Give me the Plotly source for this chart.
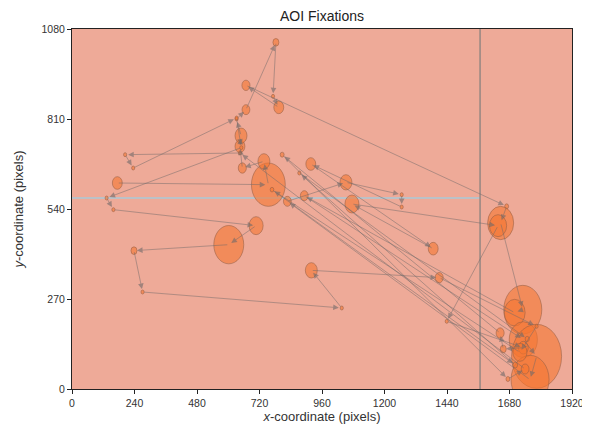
import plotly.graph_objects as go

# ---- data: fixation scanpath (screen pixels, duration ms) ----
fix_x = [174, 754, 737, 654, 645, 649, 632, 668, 783, 772, 794, 668, 1669, 1646, 1731, 1700, 892,
         1733, 1784, 1759, 827, 1052, 1266, 1266, 917, 1387, 1075, 1636, 1439, 1733, 1656, 1644,
         807, 1674, 1740, 645, 204, 235, 632, 650, 133, 159, 707, 602, 238, 271, 1036, 919, 1410,
         1784, 1720, 768, 1702, 873, 1748]
fix_y = [618, 613, 683, 663, 728, 760, 810, 838, 1040, 878, 845, 911, 548, 498, 238, 229, 580,
         148, 98, 28, 563, 620, 583, 546, 675, 421, 555, 490, 203, 124, 120, 168,
         703, 30, 60, 708, 703, 663, 813, 724, 573, 538, 490, 433, 415, 291, 243, 356, 334,
         188, 110, 598, 72, 648, 150]
fix_dur = [190, 650, 230, 155, 190, 230, 60, 150, 115, 60, 190, 155, 75, 500, 730, 400, 150,
           540, 960, 730, 150, 230, 60, 60, 190, 190, 270, 330, 60, 190, 115, 155,
           75, 75, 150, 60, 60, 60, 60, 60, 60, 60, 270, 575, 115, 60, 60, 230, 155,
           60, 270, 70, 90, 60, 80]

x_ticks = [0, 240, 480, 720, 960, 1200, 1440, 1680, 1920]
y_ticks = [0, 270, 540, 810, 1080]

aoi_split_x = 1567
aoi_split_y = 573
screen_w, screen_h = 1920, 1080

BG = "rgb(238,170,152)"
FIX_FILL = "rgba(245,118,48,0.6)"
FIX_EDGE = "rgba(150,95,70,0.55)"
ARROW = "rgba(110,105,105,0.6)"

fig = go.Figure()
fig.add_trace(go.Scatter(x=[0, screen_w], y=[0, screen_h], mode="markers",
                         marker=dict(opacity=0), hoverinfo="skip", showlegend=False))

shapes = []
shapes.append(dict(type="rect", xref="x", yref="y", x0=0, x1=screen_w, y0=0, y1=screen_h,
                   fillcolor=BG, line=dict(width=0), layer="below"))
shapes.append(dict(type="line", xref="x", yref="y", x0=0, x1=aoi_split_x,
                   y0=aoi_split_y, y1=aoi_split_y, line=dict(color="rgb(170,200,215)", width=1.5),
                   layer="below"))
shapes.append(dict(type="line", xref="x", yref="y", x0=aoi_split_x, x1=aoi_split_x,
                   y0=0, y1=screen_h, line=dict(color="rgb(150,135,130)", width=1.5), layer="below"))

for x, y, d in zip(fix_x, fix_y, fix_dur):
    r = d / 10.0
    shapes.append(dict(type="circle", xref="x", yref="y", x0=x - r, x1=x + r, y0=y - r, y1=y + r,
                       fillcolor=FIX_FILL, line=dict(color=FIX_EDGE, width=1), layer="below"))

annotations = []
for i in range(len(fix_x) - 1):
    annotations.append(dict(x=fix_x[i + 1], y=fix_y[i + 1], ax=fix_x[i], ay=fix_y[i],
                            xref="x", yref="y", axref="x", ayref="y", text="",
                            showarrow=True, arrowhead=2, arrowsize=1.4, arrowwidth=0.8,
                            arrowcolor=ARROW, standoff=3))

# the page body adds an 8px offset, so size the figure to land on the reference pixels
fig.update_layout(
    width=582, height=422,
    margin=dict(l=64, r=18, t=21, b=41, autoexpand=False),
    paper_bgcolor="white", plot_bgcolor=BG,
    shapes=shapes, annotations=annotations,
    font=dict(family="Liberation Sans, Arial, sans-serif", size=10.5, color="#333"),
    title=dict(text="AOI Fixations", x=0.5, xanchor="center", y=0.982, yanchor="middle",
               xref="paper", font=dict(size=14, color="#222")),
    showlegend=False,
)
fig.update_xaxes(range=[0, screen_w], tickvals=x_ticks, ticks="outside", ticklen=4,
                 tickcolor="#222", showgrid=False, zeroline=False, showline=True,
                 linecolor="#222", linewidth=1, mirror=True, automargin=False,
                 title=dict(text="<i>x</i>-coordinate (pixels)", standoff=0,
                            font=dict(size=13, color="#333")))
fig.update_yaxes(range=[0, screen_h], tickvals=y_ticks, ticks="outside", ticklen=4,
                 tickcolor="#222", showgrid=False, zeroline=False, showline=True,
                 linecolor="#222", linewidth=1, mirror=True, automargin=False,
                 title=dict(text="<i>y</i>-coordinate (pixels)", standoff=14,
                            font=dict(size=13, color="#333")))

fig.write_html("out.html")
